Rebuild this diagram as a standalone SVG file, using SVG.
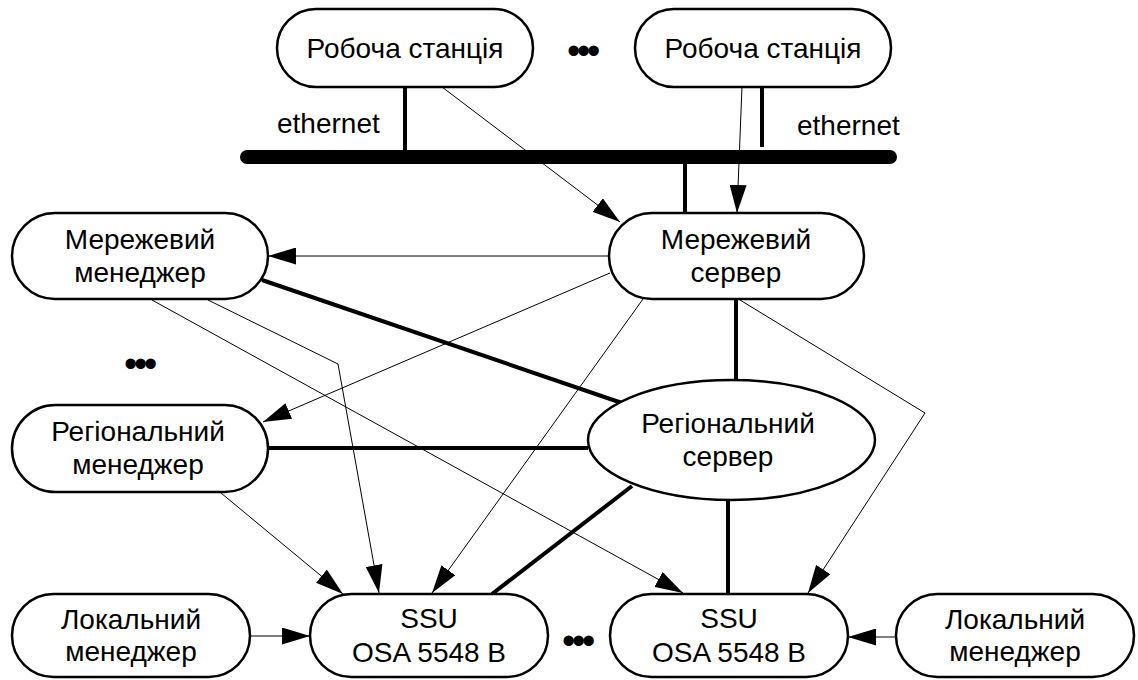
<svg xmlns="http://www.w3.org/2000/svg" width="1138" height="680" viewBox="0 0 1138 680">
  <defs>
    <marker id="arrow" markerUnits="userSpaceOnUse" viewBox="0 0 28 17" markerWidth="28" markerHeight="17" refX="28" refY="8.5" orient="auto">
      <path d="M0,0 L28,8.5 L0,17 Z" fill="#000"/>
    </marker>
  </defs>
  <style>
    .node { fill: #fff; stroke: #000; stroke-width: 2.5; }
    .label { font-family: "Liberation Sans", Arial, sans-serif; font-size: 28px; fill: #000; text-anchor: middle; }
    .free { font-family: "Liberation Sans", Arial, sans-serif; font-size: 28px; fill: #000; }
    .dots { font-family: "Liberation Sans", Arial, sans-serif; font-size: 38px; letter-spacing: -3.3px; fill: #000; }
    .thin { fill: none; stroke: #000; stroke-width: 1; }
    .thick { fill: none; stroke: #000; stroke-width: 4; }
    .bus { fill: none; stroke: #000; stroke-width: 14; stroke-linecap: round; }
    .arr { marker-end: url(#arrow); }
  </style>
  <rect width="1138" height="680" fill="#fff"/>

  <!-- connectors -->
  <g id="connectors">
    <!-- ethernet bus and drops -->
    <line class="bus" x1="247" y1="157" x2="890" y2="157"/>
    <line class="thick" x1="405" y1="87" x2="405" y2="157"/>
    <line class="thick" x1="762" y1="86" x2="762" y2="147"/>
    <line class="thick" x1="685" y1="157" x2="685" y2="213"/>
    <!-- workstations to network server -->
    <line class="thin arr" x1="442" y1="87" x2="620" y2="222"/>
    <line class="thin arr" x1="742" y1="86" x2="737" y2="213"/>
    <!-- network server fan-out -->
    <line class="thin arr" x1="609" y1="256" x2="268" y2="256"/>
    <line class="thin arr" x1="610" y1="273" x2="263" y2="422"/>
    <line class="thin arr" x1="643" y1="299" x2="432" y2="593"/>
    <polyline class="thin arr" points="740,300 925,413 808,593"/>
    <!-- managers to SSU -->
    <polyline class="thin arr" points="208,300 338,364 379,593"/>
    <line class="thin arr" x1="152" y1="300" x2="683" y2="593"/>
    <line class="thin arr" x1="221" y1="493" x2="343" y2="594"/>
    <line class="thin arr" x1="250" y1="636" x2="310" y2="636"/>
    <line class="thin arr" x1="896" y1="637" x2="848" y2="637"/>
    <!-- regional server links -->
    <line class="thick" x1="262" y1="280" x2="622" y2="403"/>
    <line class="thick" x1="268" y1="448" x2="588" y2="448"/>
    <line class="thick" x1="736" y1="299" x2="736" y2="380"/>
    <line class="thick" x1="632" y1="486" x2="492" y2="594"/>
    <line class="thick" x1="728" y1="500" x2="728" y2="594"/>
  </g>

  <text class="free" x="277" y="133">ethernet</text>
  <text class="free" x="797" y="135">ethernet</text>
  <text class="dots" x="567" y="64">•••</text>
  <text class="dots" x="124" y="377">•••</text>
  <text class="dots" x="562" y="654">•••</text>

  <g id="ws1">
    <rect class="node" x="277" y="9" width="256" height="78" rx="39" ry="39"/>
    <text class="label" x="405" y="58">Робоча станція</text>
  </g>
  <g id="ws2">
    <rect class="node" x="635" y="9" width="256" height="78" rx="39" ry="39"/>
    <text class="label" x="763" y="58">Робоча станція</text>
  </g>
  <g id="net-manager">
    <rect class="node" x="12" y="213" width="256" height="86" rx="43" ry="43"/>
    <text class="label" x="140" y="249">Мережевий</text>
    <text class="label" x="140" y="282">менеджер</text>
  </g>
  <g id="net-server">
    <rect class="node" x="609" y="213" width="255" height="86" rx="43" ry="43"/>
    <text class="label" x="736" y="249">Мережевий</text>
    <text class="label" x="736" y="282">сервер</text>
  </g>
  <g id="reg-manager">
    <rect class="node" x="12" y="405" width="256" height="87" rx="43.5" ry="43.5"/>
    <text class="label" x="138" y="441">Регіональний</text>
    <text class="label" x="138" y="474">менеджер</text>
  </g>
  <g id="reg-server">
    <ellipse class="node" cx="731.5" cy="440" rx="143.5" ry="60"/>
    <text class="label" x="728" y="433">Регіональний</text>
    <text class="label" x="728" y="466">сервер</text>
  </g>
  <g id="local-manager-1">
    <rect class="node" x="12" y="594" width="238" height="83" rx="41.5" ry="41.5"/>
    <text class="label" x="131" y="629">Локальний</text>
    <text class="label" x="131" y="661">менеджер</text>
  </g>
  <g id="ssu-1">
    <rect class="node" x="310" y="594" width="238" height="83" rx="41.5" ry="41.5"/>
    <text class="label" x="429" y="628">SSU</text>
    <text class="label" x="429" y="662">OSA 5548 B</text>
  </g>
  <g id="ssu-2">
    <rect class="node" x="610" y="594" width="238" height="83" rx="41.5" ry="41.5"/>
    <text class="label" x="729" y="628">SSU</text>
    <text class="label" x="729" y="662">OSA 5548 B</text>
  </g>
  <g id="local-manager-2">
    <rect class="node" x="896" y="594" width="238" height="83" rx="41.5" ry="41.5"/>
    <text class="label" x="1015" y="629">Локальний</text>
    <text class="label" x="1015" y="661">менеджер</text>
  </g>
</svg>
